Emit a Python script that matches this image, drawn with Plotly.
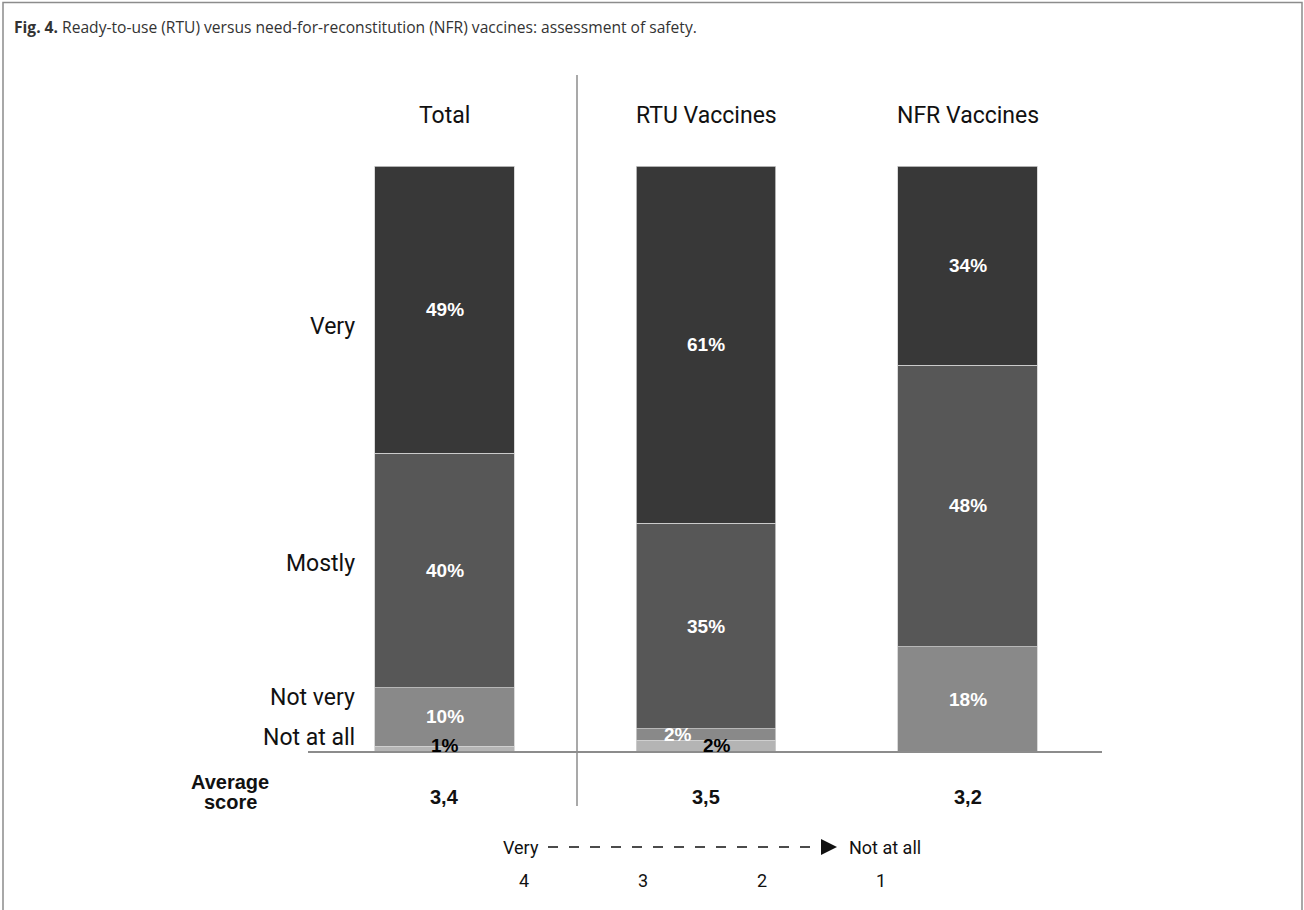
import plotly.graph_objects as go

W, H = 1304, 910

# Survey data: perceived safety by vaccine type
groups = ["Total", "RTU Vaccines", "NFR Vaccines"]
levels = ["Not at all", "Not very", "Mostly", "Very"]
share_not_at_all = [1, 2, 0]
share_not_very = [10, 2, 18]
share_mostly = [40, 35, 48]
share_very = [49, 61, 34]
average_score = ["3,4", "3,5", "3,2"]
scale_ticks = ["4", "3", "2", "1"]

colors = {"Very": "#383838", "Mostly": "#575757",
          "Not very": "#898989", "Not at all": "#b4b4b4"}
series = {"Not at all": share_not_at_all, "Not very": share_not_very,
          "Mostly": share_mostly, "Very": share_very}

COND = "Roboto, Liberation Sans Narrow, sans-serif"
BOLD = "Liberation Sans, Arial, Helvetica, sans-serif"


def px(x):
    return x / W


def py(y):
    return 1 - y / H


fig = go.Figure()
for lvl in levels:
    fig.add_trace(go.Bar(
        x=groups, y=series[lvl], name=lvl, width=0.532,
        marker=dict(color=colors[lvl], line=dict(color="#cfcfcf", width=0.8)),
        hoverinfo="x+y+name",
    ))

# value labels placed at the middle of each stacked segment
annotations = []
for gi, g in enumerate(groups):
    base = 0
    for lvl in levels:
        v = series[lvl][gi]
        if v > 0:
            mid = base + v / 2
            color = "white"
            xshift, yshift = 0, 0
            if lvl == "Not at all":
                color = "black"
                yshift = 4 if v < 2 else 1
                xshift = 11 if gi == 1 else 0
            elif v <= 2:
                xshift = -28
            annotations.append(dict(
                x=g, y=mid, xref="x", yref="y", text=f"<b>{v}%</b>",
                showarrow=False, xshift=xshift, yshift=yshift,
                font=dict(family=BOLD, size=19, color=color)))
        base += v

# group headers
for g in groups:
    annotations.append(dict(x=g, y=py(116), xref="x", yref="paper", text=g,
                            showarrow=False, yanchor="middle",
                            font=dict(family=COND, size=23, color="#111")))
# average scores
for g, s in zip(groups, average_score):
    annotations.append(dict(x=g, y=py(797), xref="x", yref="paper",
                            text=f"<b>{s}</b>", showarrow=False,
                            yanchor="middle",
                            font=dict(family=BOLD, size=20, color="#111")))

# row labels on the left
row_label_y = {"Very": 326, "Mostly": 563, "Not very": 697, "Not at all": 737}
for lvl, yy in row_label_y.items():
    annotations.append(dict(x=px(357), y=py(yy), xref="paper", yref="paper",
                            text=lvl, showarrow=False, xanchor="right",
                            yanchor="middle",
                            font=dict(family=COND, size=23, color="#111")))

for word, yy in (("Average", 782), ("score", 802)):
    annotations.append(dict(x=px(230), y=py(yy), xref="paper", yref="paper",
                            text=f"<b>{word}</b>", showarrow=False,
                            xanchor="center", yanchor="middle",
                            font=dict(family=BOLD, size=20, color="#111")))

# scale legend
annotations.append(dict(x=px(541), y=py(847), xref="paper", yref="paper",
                        text="Very", showarrow=False, xanchor="right",
                        yanchor="middle",
                        font=dict(family=COND, size=18, color="#111")))
annotations.append(dict(x=px(847), y=py(847), xref="paper", yref="paper",
                        text="Not at all", showarrow=False, xanchor="left",
                        yanchor="middle",
                        font=dict(family=COND, size=18, color="#111")))
for i, t in enumerate(scale_ticks):
    annotations.append(dict(x=px(524 + i * 119), y=py(880), xref="paper",
                            yref="paper", text=t, showarrow=False,
                            xanchor="center", yanchor="middle",
                            font=dict(family=COND, size=18, color="#111")))

# figure caption
annotations.append(dict(x=px(12), y=py(27), xref="paper", yref="paper",
                        text="<b>Fig. 4.</b> Ready-to-use (RTU) versus need-for-reconstitution (NFR) vaccines: assessment of safety.",
                        showarrow=False, xanchor="left", yanchor="middle",
                        font=dict(family="Open Sans, Lato, sans-serif", size=15.6,
                                  color="#333")))

shapes = [
    # outer frame
    dict(type="rect", xref="paper", yref="paper", x0=px(3), x1=px(1302),
         y0=-0.02, y1=py(2.5), line=dict(color="#8c8c8c", width=1.5)),
    # group separator
    dict(type="line", xref="paper", yref="paper", x0=px(577), x1=px(577),
         y0=py(75), y1=py(806), line=dict(color="#8c8c8c", width=1.5)),
    # baseline
    dict(type="line", xref="paper", yref="paper", x0=px(308), x1=px(1102),
         y0=py(752), y1=py(752), line=dict(color="#8c8c8c", width=2),
         layer="above"),
    # dashed scale arrow
    dict(type="line", xref="paper", yref="paper", x0=px(548), x1=px(826),
         y0=py(847), y1=py(847),
         line=dict(color="#111", width=1.5, dash="10px,11px")),
    dict(type="path", xref="paper", yref="paper",
         path=f"M {px(821)},{py(839)} L {px(837)},{py(847)} L {px(821)},{py(855)} Z",
         fillcolor="#111", line=dict(color="#111", width=0)),
]

# axis mapping: y=0 at pixel 752, y=100 at pixel 166; x centres at 444.5 + 261.5*i
ppu = (752 - 166) / 100
y_lo = -(H - 752) / ppu
y_hi = 752 / ppu
x_lo = -444.5 / 261.5
x_hi = (W - 444.5) / 261.5

fig.update_layout(
    width=W, height=H, barmode="stack", showlegend=False,
    margin=dict(l=0, r=0, t=0, b=0),
    paper_bgcolor="white", plot_bgcolor="white",
    xaxis=dict(range=[x_lo, x_hi], visible=False, domain=[0, 1]),
    yaxis=dict(range=[y_lo, y_hi], visible=False, domain=[0, 1]),
    annotations=annotations, shapes=shapes,
)

fig.write_html("out.html")
